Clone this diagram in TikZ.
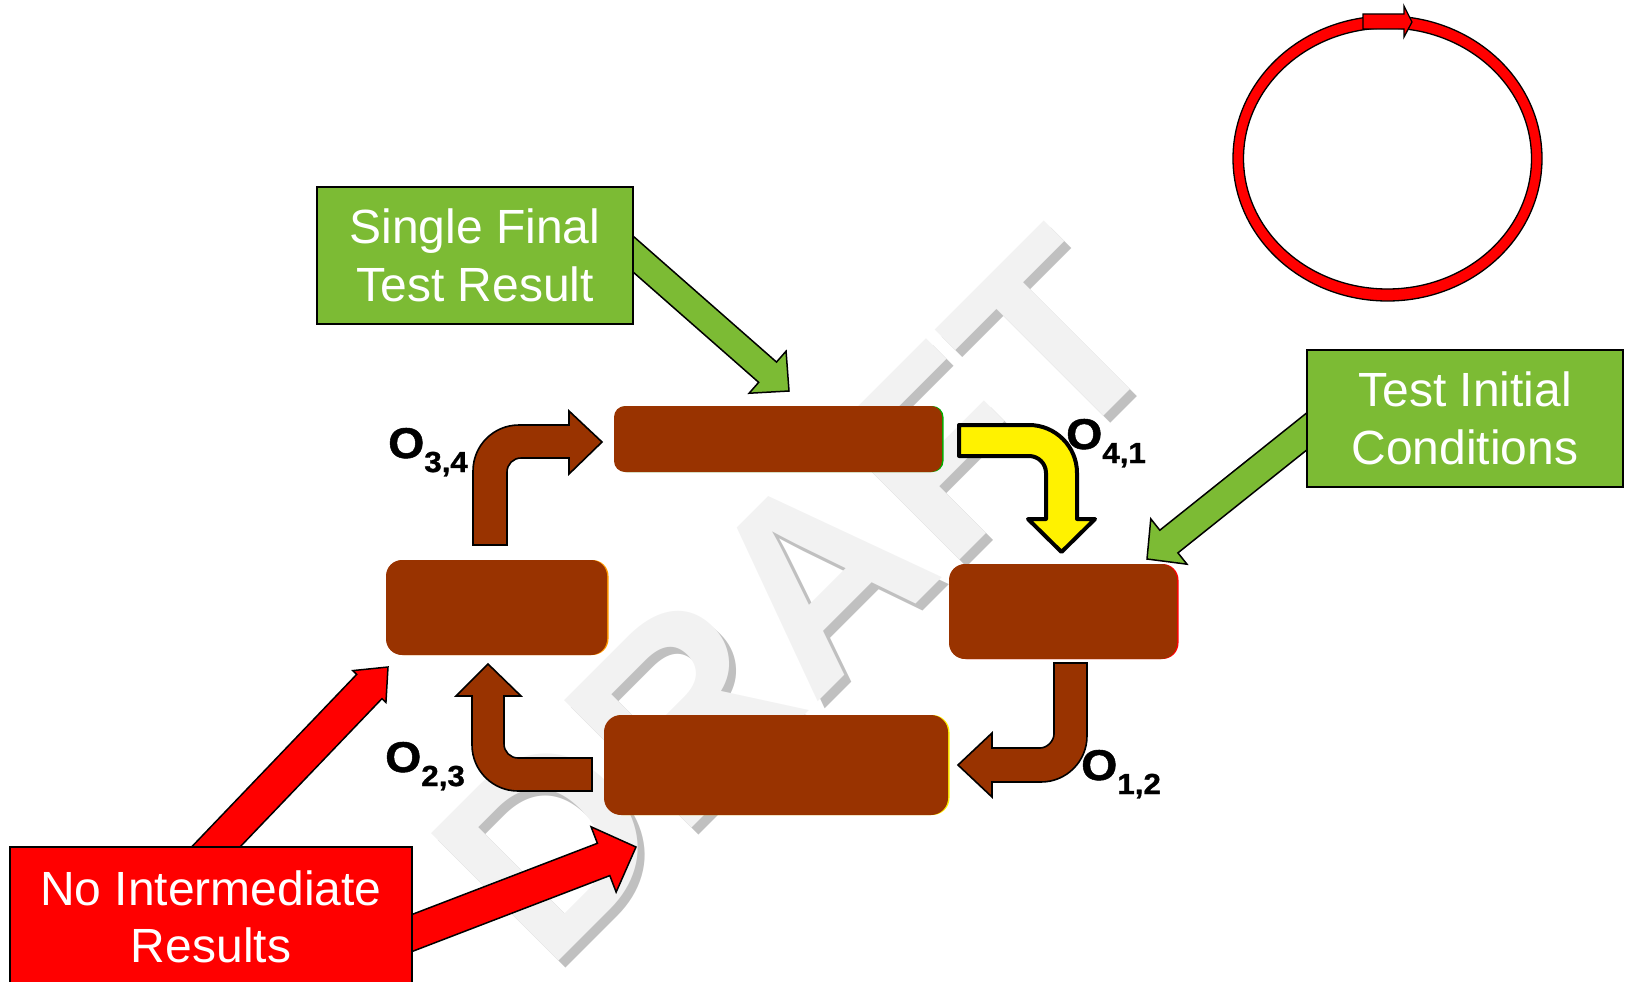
\documentclass[tikz,border=0pt]{standalone}
\usepackage{fontspec}
\setmainfont{Liberation Sans}
\newfontfamily\lblfamily{Liberation Sans Bold}[FakeStretch=1.08, FakeBold=1.2]
\usetikzlibrary{calc}
\definecolor{brn}{HTML}{993300}
\definecolor{grn}{HTML}{7CBB34}
\definecolor{wmlight}{HTML}{F2F2F2}
\definecolor{wmshadow}{HTML}{C0C0C0}
\definecolor{accgreen}{HTML}{00B000}
\definecolor{accorange}{HTML}{FF9900}
\definecolor{accred}{HTML}{FF0000}
\definecolor{accyellow}{HTML}{FFEE00}
\newcommand\mkblockarrow[6]{%
  \coordinate (bah) at ($(#3)!#6!(#2)$);
  \draw[#1] ($(#2)!#4!90:(#3)$) -- ($(bah)!#4!90:(#3)$) -- ($(bah)!#5!90:(#3)$) -- (#3)
    -- ($(bah)!#5!-90:(#3)$) -- ($(bah)!#4!-90:(#3)$) -- ($(#2)!#4!-90:(#3)$) -- cycle;
}
\newcommand\subsz{\fontsize{29}{29}\selectfont}
\begin{document}
\begin{tikzpicture}[x=1pt,y=-1pt,
  brownbox/.style={fill=brn, inner sep=0, preaction={fill=#1, transform canvas={xshift=1.5pt}}},
  gbox/.style={draw=black, line width=2.3, fill=grn, text=white, align=center, inner sep=0,
    font=\fontsize{48}{58}\selectfont},
  rbox/.style={draw=black, line width=2, fill=red, inner sep=0},
  wtext/.style={text=white, inner sep=0, font=\fontsize{48}{58}\selectfont},
  garrow/.style={fill=grn, draw=black, line width=1.5},
  rarrow/.style={fill=red, draw=black, line width=1.5},
  bentarrow/.style={fill=brn, draw=black, line width=1.6},
  yarrow/.style={fill=yellow, draw=black, line width=4, line join=round},
  lbl/.style={inner sep=0, anchor=base west, font=\lblfamily\fontsize{43}{43}\selectfont},
  wm/.style={inner sep=0, anchor=base west, rotate=45, font=\fontsize{262}{262}\selectfont\bfseries}
]
\path[use as bounding box] (0,0) rectangle (1631,982);

% watermark
\node[wm, text=wmshadow] (wmsh) at (553,981) {DRAFT};
\node[wm, text=wmlight] (wmtx) at (546,974) {DRAFT};

% block arrows behind boxes
\coordinate (ga1s) at (578.6,206.2);
\coordinate (ga1t) at (789,391);
\mkblockarrow{garrow}{ga1s}{ga1t}{13.5pt}{28pt}{28.5pt}
\coordinate (ga2s) at (1354,393.7);
\coordinate (ga2t) at (1147,559);
\mkblockarrow{garrow}{ga2s}{ga2t}{14.5pt}{29pt}{28pt}
\coordinate (ra1s) at (188,876);
\coordinate (ra1t) at (388,667);
\mkblockarrow{rarrow}{ra1s}{ra1t}{17.5pt}{23pt}{27pt}
\coordinate (ra2s) at (356,954.5);
\coordinate (ra2t) at (636,847);
\mkblockarrow{rarrow}{ra2s}{ra2t}{17.3pt}{35pt}{34.7pt}

% label boxes
\node[gbox, minimum width=316, minimum height=137] (sft) at (475,255.5) {Single Final\\Test Result};
\node[gbox, minimum width=316, minimum height=137] (tic) at (1465,418.5) {Test Initial\\Conditions};
\node[rbox, minimum width=402, minimum height=160] (nir) at (211,927) {};
\node[wtext, anchor=base] (nir1) at (211,905) {No Intermediate};
\node[wtext, anchor=base] (nir2) at (211,962) {Results};

% brown boxes
\node[brownbox=accgreen, rounded corners=11, minimum width=328, minimum height=66] (b4) at (778,439) {};
\node[brownbox=accorange, rounded corners=16, minimum width=221, minimum height=95] (b3) at (496.5,607.5) {};
\node[brownbox=accred, rounded corners=16, minimum width=228, minimum height=95] (b1) at (1063,611.5) {};
\node[brownbox=accyellow, rounded corners=17, minimum width=344, minimum height=100] (b2) at (776,765) {};

% bent arrows
\draw[bentarrow] (473,545) -- (473,471) .. controls (473,445.6) and (493.4,425) .. (519,425)
  -- (569,425) -- (569,411) -- (602,442) -- (569,474) -- (569,458) -- (521,458)
  .. controls (513.3,458) and (507,464.3) .. (507,472) -- (507,545) -- cycle;
\draw[yarrow] (959,425) -- (1029,425) .. controls (1055.5,425) and (1077,446.5) .. (1077,473)
  -- (1077,519) -- (1095,519) -- (1061.5,552) -- (1028,519) -- (1046,519) -- (1046,473)
  .. controls (1046,463.6) and (1038.4,456) .. (1029,456) -- (959,456) -- cycle;
\draw[bentarrow] (1054,663) -- (1087,663) -- (1087,736) .. controls (1087,761.4) and (1066.4,782) .. (1041,782)
  -- (992,782) -- (992,797) -- (958,765) -- (992,733) -- (992,748) -- (1040,748)
  .. controls (1047.7,748) and (1054,740.3) .. (1054,734) -- cycle;
\draw[bentarrow] (592,758) -- (592,791) -- (518,791) .. controls (492.6,791) and (472,770.4) .. (472,745)
  -- (472,696) -- (456,696) -- (488,664) -- (521,696) -- (504,696) -- (504,744)
  .. controls (504,751.7) and (510.3,758) .. (518,758) -- cycle;

% labels
\node[lbl] (o34) at (388,458) {O{\subsz\raisebox{-14pt}{3,4}}};
\node[lbl] (o41) at (1066,449) {O{\subsz\raisebox{-14pt}{4,1}}};
\node[lbl] (o12) at (1081,780) {O{\subsz\raisebox{-14pt}{1,2}}};
\node[lbl] (o23) at (385,772) {O{\subsz\raisebox{-14pt}{2,3}}};

% ring
\coordinate (ringc) at (1387.5,158.5);
\draw[fill=red, even odd rule, line width=1.3] (ringc) ellipse [x radius=154.5, y radius=142.5]
  (ringc) ellipse [x radius=144, y radius=130.5];
\draw[fill=red, line width=1.3] (1363,14) -- (1404,14) -- (1404,6) -- (1412,22) -- (1404,37) -- (1404,29) -- (1363,29) -- cycle;
\end{tikzpicture}
\end{document}
